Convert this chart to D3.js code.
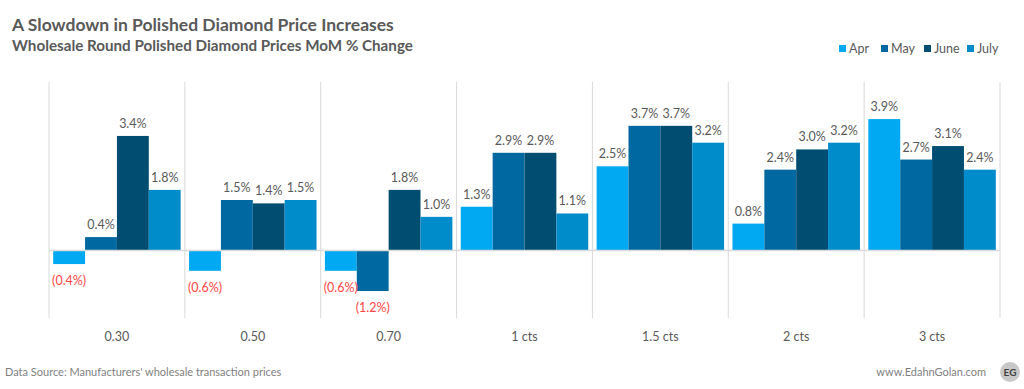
<!DOCTYPE html>
<html>
<head>
<meta charset="utf-8">
<script src="https://cdn.jsdelivr.net/npm/d3@7"></script>
<style>
  body { margin: 0; background: #fff; }
  text { font-family: Lato, "Open Sans", sans-serif; }
</style>
</head>
<body>
<div id="chart"></div>
<script>
// chart data
const categories = ["0.30", "0.50", "0.70", "1 cts", "1.5 cts", "2 cts", "3 cts"];
const seriesNames = ["Apr", "May", "June", "July"];
const aprValues = [-0.4, -0.6, -0.6, 1.3, 2.5, 0.8, 3.9];
const mayValues = [0.4, 1.5, -1.2, 2.9, 3.7, 2.4, 2.7];
const juneValues = [3.4, 1.4, 1.8, 2.9, 3.7, 3.0, 3.1];
const julyValues = [1.8, 1.5, 1.0, 1.1, 3.2, 3.2, 2.4];

const width = 1024;
const height = 389;
const plot = { left: 49, right: 1000, top: 82, bottom: 318 };

const colors = {
  Apr: "#00a9f1",
  May: "#0068a0",
  June: "#004d72",
  July: "#008bcb"
};
const textColor = "#595959";
const negColor = "#ff4545";
const gridColor = "#d9d9d9";

const seriesValues = { Apr: aprValues, May: mayValues, June: juneValues, July: julyValues };

const svg = d3.select("#chart")
  .append("svg")
  .attr("width", width)
  .attr("height", height);

// titles
svg.append("text")
  .attr("x", 12).attr("y", 31)
  .attr("font-size", 17.5).attr("font-weight", "bold")
  .attr("fill", textColor)
  .text("A Slowdown in Polished Diamond Price Increases");

svg.append("text")
  .attr("x", 12).attr("y", 51)
  .attr("font-size", 15.2).attr("font-weight", "bold")
  .attr("fill", textColor)
  .text("Wholesale Round Polished Diamond Prices MoM % Change");

// scales
const x = d3.scaleBand().domain(categories).range([plot.left, plot.right]).padding(0);
const xInner = d3.scaleBand().domain(seriesNames)
  .range([4.2, x.bandwidth() - 4.2]).padding(0);
const y = d3.scaleLinear().domain([-2, 5]).range([plot.bottom, plot.top]);

// vertical separators
const bounds = categories.map(function(c) { return x(c); }).concat([plot.right]);
svg.append("g").selectAll("line")
  .data(bounds)
  .enter()
  .append("line")
  .attr("x1", function(d) { return d; })
  .attr("x2", function(d) { return d; })
  .attr("y1", plot.top)
  .attr("y2", plot.bottom)
  .attr("stroke", gridColor)
  .attr("stroke-width", 1);

// bars
const barData = [];
seriesNames.forEach(function(s) {
  seriesValues[s].forEach(function(v, i) {
    barData.push({ series: s, cat: categories[i], value: v });
  });
});

svg.append("g").selectAll("rect")
  .data(barData)
  .enter()
  .append("rect")
  .attr("x", function(d) { return x(d.cat) + xInner(d.series); })
  .attr("width", xInner.bandwidth())
  .attr("y", function(d) { return y(Math.max(0, d.value)); })
  .attr("height", function(d) { return Math.abs(y(d.value) - y(0)); })
  .attr("fill", function(d) { return colors[d.series]; });

// zero line
svg.append("line")
  .attr("x1", plot.left).attr("x2", plot.right)
  .attr("y1", y(0)).attr("y2", y(0))
  .attr("stroke", gridColor).attr("stroke-width", 1.5);

// value labels
svg.append("g").selectAll("text")
  .data(barData)
  .enter()
  .append("text")
  .attr("x", function(d) { return x(d.cat) + xInner(d.series) + xInner.bandwidth() / 2; })
  .attr("y", function(d) { return d.value >= 0 ? y(d.value) - 8 : y(d.value) + 21; })
  .attr("text-anchor", "middle")
  .attr("font-size", 12.5)
  .attr("fill", function(d) { return d.value >= 0 ? textColor : negColor; })
  .text(function(d) {
    const s = Math.abs(d.value).toFixed(1) + "%";
    return d.value >= 0 ? s : "(" + s + ")";
  });

// category axis labels
const xAxis = d3.axisBottom(x).tickSize(0).tickPadding(0);
const axisG = svg.append("g")
  .attr("transform", "translate(0," + 341 + ")")
  .call(xAxis);
axisG.select(".domain").remove();
axisG.selectAll("text")
  .attr("font-family", "Lato, sans-serif")
  .attr("font-size", 12.5)
  .attr("fill", textColor)
  .attr("dy", 0);

// legend
const legendX = [839, 881, 924, 967];
const legend = svg.append("g").selectAll("g")
  .data(seriesNames)
  .enter()
  .append("g")
  .attr("transform", function(d, i) { return "translate(" + legendX[i] + ",45)"; });
legend.append("rect")
  .attr("width", 7).attr("height", 7)
  .attr("fill", function(d) { return colors[d]; });
legend.append("text")
  .attr("x", 10).attr("y", 8)
  .attr("font-size", 12.5)
  .attr("fill", textColor)
  .text(function(d) { return d; });

// footer
svg.append("text")
  .attr("x", 5).attr("y", 376)
  .attr("font-size", 11)
  .attr("fill", "#7f7f7f")
  .text("Data Source: Manufacturers' wholesale transaction prices");

svg.append("text")
  .attr("x", 986).attr("y", 376)
  .attr("text-anchor", "end")
  .attr("font-size", 11)
  .attr("fill", "#7f7f7f")
  .text("www.EdahnGolan.com");

svg.append("circle")
  .attr("cx", 1010).attr("cy", 372)
  .attr("r", 10)
  .attr("fill", "#c8c8c8");
svg.append("text")
  .attr("x", 1010).attr("y", 376)
  .attr("text-anchor", "middle")
  .attr("font-size", 10).attr("font-weight", "bold")
  .attr("fill", "#404040")
  .text("EG");
</script>
</body>
</html>
